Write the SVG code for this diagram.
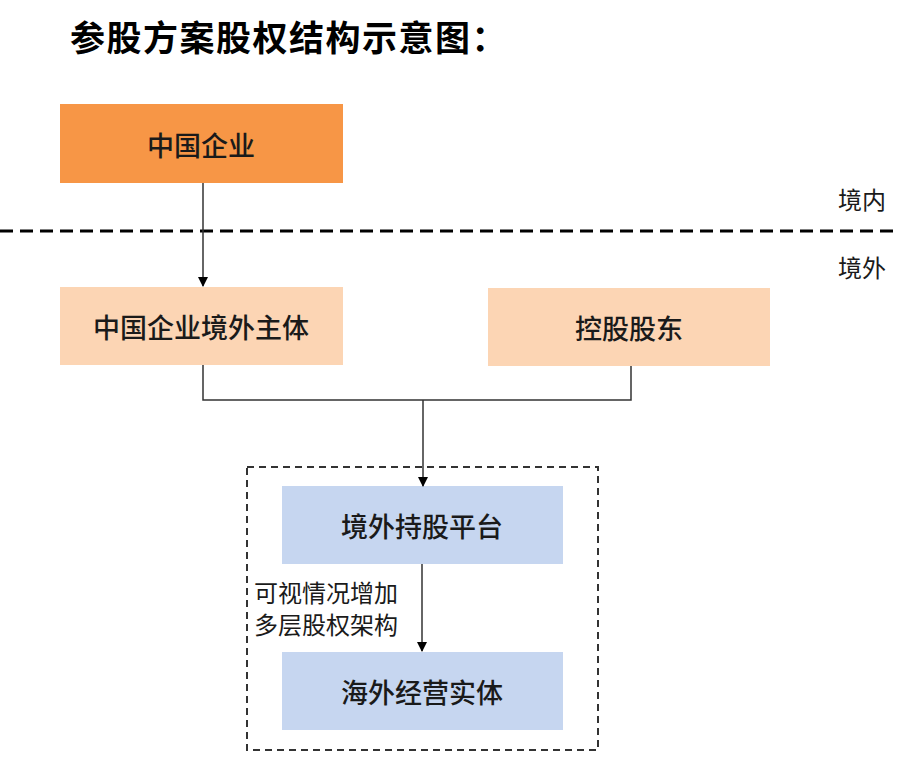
<svg xmlns="http://www.w3.org/2000/svg" width="899" height="768" viewBox="0 0 899 768">
<defs>
<marker id="ah" markerWidth="10" markerHeight="10" refX="9" refY="5" orient="auto" markerUnits="userSpaceOnUse" viewBox="0 0 10 10">
<path d="M0,0 L10,5 L0,10 z" fill="#000"/>
</marker>
<style>
text{font-family:"Noto Sans CJK SC","Noto Sans",sans-serif;fill:#1a1a1a}
.lbl{font-size:27px;font-weight:500;text-anchor:middle;dominant-baseline:central}
.side{font-size:24px}
.note{font-size:24px}
.conn{fill:none;stroke:#333;stroke-width:1.5}
</style>
</defs>
<rect width="899" height="768" fill="#fff"/>
<text x="70" y="51" style="font-size:35px;font-weight:bold;fill:#000;letter-spacing:1.5px">参股方案股权结构示意图：</text>
<line x1="0" y1="231" x2="899" y2="231" stroke="#000" stroke-width="3" stroke-dasharray="13,7"/>
<text class="side" x="838" y="209">境内</text>
<text class="side" x="838" y="277">境外</text>
<rect id="platform-group" x="247" y="467" width="351" height="283" fill="none" stroke="#333" stroke-width="2" stroke-dasharray="7,5"/>
<g id="n1"><rect x="60" y="104" width="283" height="79" fill="#F79646"/><text class="lbl" x="201" y="144">中国企业</text></g>
<g id="n2"><rect x="60" y="287" width="283" height="78" fill="#FCD5B4"/><text class="lbl" x="201" y="326">中国企业境外主体</text></g>
<g id="n3"><rect x="488" y="288" width="282" height="78" fill="#FCD5B4"/><text class="lbl" x="629" y="327">控股股东</text></g>
<g id="n4"><rect x="282" y="486" width="281" height="78" fill="#C6D6F0"/><text class="lbl" x="422" y="525">境外持股平台</text></g>
<g id="n5"><rect x="282" y="652" width="281" height="78" fill="#C6D6F0"/><text class="lbl" x="422" y="691">海外经营实体</text></g>
<g id="connectors">
<line class="conn" x1="203" y1="183" x2="203" y2="286" marker-end="url(#ah)"/>
<polyline class="conn" points="203,365 203,400 631,400 631,366" stroke="#666"/>
<line class="conn" x1="423" y1="400" x2="423" y2="486" marker-end="url(#ah)" stroke-width="2"/>
<line class="conn" x1="422" y1="564" x2="422" y2="651" marker-end="url(#ah)"/>
<text class="note" x="254" y="602">可视情况增加</text>
<text class="note" x="254" y="634">多层股权架构</text>
</g>
</svg>
